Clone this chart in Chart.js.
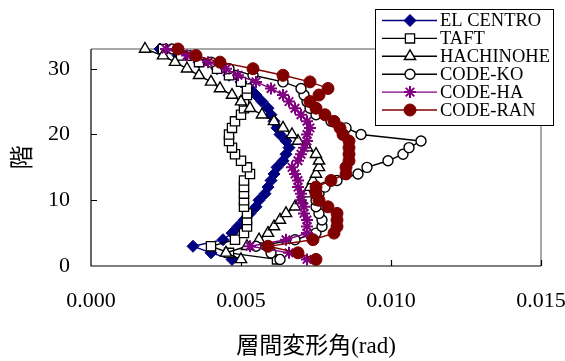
<!DOCTYPE html>
<html>
<head>
<meta charset="utf-8">
<title>層間変形角</title>
<script src="https://cdn.jsdelivr.net/npm/chart.js"></script>
<style>
  body { margin: 0; background: #fff; }
  #c { display: block; }
</style>
</head>
<body>
<canvas id="c" width="565" height="361"></canvas>
<script>
// floors (y) and drift angle per series (x)
const floors = [1,2,3,4,5,6,7,8,9,10,11,12,13,14,15,16,17,18,19,20,21,22,23,24,25,26,27,28,29,30,31,32,33];
const elCentro = [0.0047,0.0040,0.0034,0.0044,0.0047,0.0049,0.0051,0.0053,0.0055,0.0056,0.0058,0.0059,0.0060,0.0061,0.0062,0.0064,0.0065,0.0066,0.0065,0.0063,0.0062,0.0061,0.0060,0.0059,0.0057,0.0055,0.0053,0.0050,0.0046,0.0042,0.0036,0.0029,0.0023];
const taft = [0.0062,0.0046,0.0040,0.0048,0.0051,0.0052,0.0052,0.0052,0.0051,0.0051,0.0051,0.0051,0.0051,0.0053,0.0052,0.0050,0.0048,0.0047,0.0046,0.0046,0.0047,0.0048,0.0050,0.0051,0.0051,0.0052,0.0052,0.0050,0.0046,0.0042,0.0036,0.0030,0.0024];
const hachinohe = [0.0050,0.0045,0.0052,0.0056,0.0059,0.0061,0.0063,0.0065,0.0068,0.0070,0.0072,0.0073,0.0074,0.0075,0.0076,0.0076,0.0075,0.0072,0.0069,0.0067,0.0064,0.0061,0.0057,0.0053,0.0050,0.0047,0.0043,0.0040,0.0036,0.0032,0.0028,0.0024,0.0018];
const codeKo = [0.0063,0.0060,0.0055,0.0068,0.0075,0.0077,0.0077,0.0076,0.0075,0.0075,0.0076,0.0078,0.0082,0.0089,0.0092,0.0099,0.0104,0.0106,0.0110,0.0090,0.0085,0.0080,0.0075,0.0073,0.0072,0.0071,0.0070,0.0064,0.0054,0.0046,0.0040,0.0033,0.0027];
const codeHa = [0.0072,0.0066,0.0053,0.0065,0.0072,0.0072,0.0072,0.0071,0.0071,0.0070,0.0070,0.0069,0.0069,0.0068,0.0067,0.0069,0.0070,0.0071,0.0072,0.0072,0.0073,0.0072,0.0070,0.0068,0.0066,0.0064,0.0060,0.0055,0.0049,0.0045,0.0039,0.0032,0.0025];
const codeRan = [0.0075,0.0069,0.0059,0.0074,0.0081,0.0082,0.0082,0.0082,0.0079,0.0076,0.0075,0.0075,0.0080,0.0085,0.0085,0.0086,0.0086,0.0086,0.0086,0.0084,0.0083,0.0081,0.0078,0.0075,0.0073,0.0076,0.0079,0.0073,0.0064,0.0054,0.0043,0.0035,0.0029];

const seriesNames = ["EL CENTRO", "TAFT", "HACHINOHE", "CODE-KO", "CODE-HA", "CODE-RAN"];
const seriesValues = [elCentro, taft, hachinohe, codeKo, codeHa, codeRan];
const xTicks = [0, 0.005, 0.010, 0.015];
const yTicks = [0, 10, 20, 30];

const looks = [
  { color: "#000080", style: "rectRot", r: 6, fill: "#000080", bw: 1 },
  { color: "#000000", style: "rect", r: 6.5, fill: "#ffffff", bw: 1.3 },
  { color: "#000000", style: "triangle", r: 6.5, fill: "#ffffff", bw: 1.4 },
  { color: "#000000", style: "circle", r: 5, fill: "#ffffff", bw: 1.4 },
  { color: "#800080", style: "star", r: 6, fill: "#800080", bw: 2 },
  { color: "#800000", style: "circle", r: 6, fill: "#800000", bw: 1 }
];

const serif = "'Liberation Serif', 'Times New Roman', serif";

const datasets = seriesNames.map((name, i) => ({
  label: name,
  data: floors.map((f, k) => ({ x: seriesValues[i][k], y: f })),
  showLine: true,
  borderColor: looks[i].color,
  borderWidth: 1.4,
  pointStyle: looks[i].style,
  pointRadius: looks[i].r,
  pointBackgroundColor: looks[i].fill,
  pointBorderColor: looks[i].color,
  pointBorderWidth: looks[i].bw,
  order: seriesNames.length - i,
  clip: false
}));

// plot frame and inside tick marks
const framePlugin = {
  id: "frame",
  beforeDatasetsDraw(chart) {
    const { ctx, chartArea: a, scales } = chart;
    ctx.save();
    ctx.lineWidth = 1.5;
    ctx.strokeStyle = "#8c8c8c";
    ctx.beginPath();
    ctx.moveTo(a.left, a.top); ctx.lineTo(a.right, a.top); ctx.lineTo(a.right, a.bottom);
    ctx.stroke();
    ctx.lineWidth = 1.2;
    ctx.strokeStyle = "#000";
    ctx.beginPath();
    ctx.moveTo(a.left, a.top); ctx.lineTo(a.left, a.bottom); ctx.lineTo(a.right, a.bottom);
    yTicks.forEach(v => {
      if (v === 0) return;
      const y = Math.round(scales.y.getPixelForValue(v)) + 0.5;
      ctx.moveTo(a.left, y); ctx.lineTo(a.left + 6, y);
    });
    xTicks.forEach(v => {
      if (v === 0) return;
      const x = Math.round(scales.x.getPixelForValue(v)) + 0.5;
      ctx.moveTo(x, a.bottom); ctx.lineTo(x, a.bottom - 6);
    });
    ctx.stroke();
    ctx.restore();
  }
};

// boxed legend in the upper right, overlapping the plot
const legendPlugin = {
  id: "boxLegend",
  afterDraw(chart) {
    const ctx = chart.ctx;
    const bx = 375, by = 9, bw = 178, bh = 116;
    ctx.save();
    ctx.fillStyle = "#fff";
    ctx.fillRect(bx, by, bw, bh);
    ctx.strokeStyle = "#000";
    ctx.lineWidth = 1;
    ctx.strokeRect(bx + 0.5, by + 0.5, bw, bh);
    chart.data.datasets.forEach((ds, i) => {
      const y = 20.5 + i * 17.9;
      ctx.strokeStyle = ds.borderColor;
      ctx.lineWidth = 1.4;
      ctx.beginPath();
      ctx.moveTo(382, y); ctx.lineTo(437, y);
      ctx.stroke();
      ctx.fillStyle = ds.pointBackgroundColor;
      ctx.strokeStyle = ds.pointBorderColor;
      ctx.lineWidth = ds.pointBorderWidth;
      Chart.helpers.drawPoint(ctx, { pointStyle: ds.pointStyle, radius: ds.pointRadius, borderWidth: ds.pointBorderWidth, rotation: 0 }, 410, y);
      ctx.fillStyle = "#000";
      ctx.font = "18.5px " + serif;
      ctx.textAlign = "left";
      ctx.textBaseline = "middle";
      ctx.fillText(ds.label, 440, y + 1);
    });
    ctx.restore();
  }
};

new Chart(document.getElementById("c"), {
  type: "scatter",
  data: { datasets },
  options: {
    responsive: false,
    animation: false,
    events: [],
    layout: { padding: { top: 49, right: 24, left: 0, bottom: 0 } },
    plugins: { legend: { display: false }, tooltip: { enabled: false } },
    scales: {
      x: {
        type: "linear",
        min: 0,
        max: 0.015,
        afterBuildTicks: s => { s.ticks = xTicks.map(v => ({ value: v })); },
        afterFit: s => { s.height = 95; s.paddingLeft = 0; s.paddingRight = 0; },
        grid: { display: false, drawTicks: false },
        border: { display: false },
        ticks: {
          padding: 22,
          color: "#000",
          font: { family: serif, size: 22 },
          callback: v => Number(v).toFixed(3),
          maxRotation: 0
        },
        title: {
          display: true,
          text: "層間変形角(rad)",
          color: "#000",
          font: { family: "'Liberation Serif', 'Noto Sans CJK JP', serif", size: 23 },
          padding: 0
        }
      },
      y: {
        type: "linear",
        min: 0,
        max: 33,
        afterBuildTicks: s => { s.ticks = yTicks.map(v => ({ value: v })); },
        afterFit: s => { s.width = 91; s.paddingTop = 0; s.paddingBottom = 0; },
        grid: { display: false, drawTicks: false },
        border: { display: false },
        ticks: {
          padding: 21,
          color: "#000",
          font: { family: serif, size: 22 }
        },
        title: {
          display: true,
          text: "階",
          color: "#000",
          font: { family: "'Noto Sans CJK JP', sans-serif", size: 24 },
          padding: 6
        }
      }
    }
  },
  plugins: [framePlugin, legendPlugin]
});
</script>
</body>
</html>
